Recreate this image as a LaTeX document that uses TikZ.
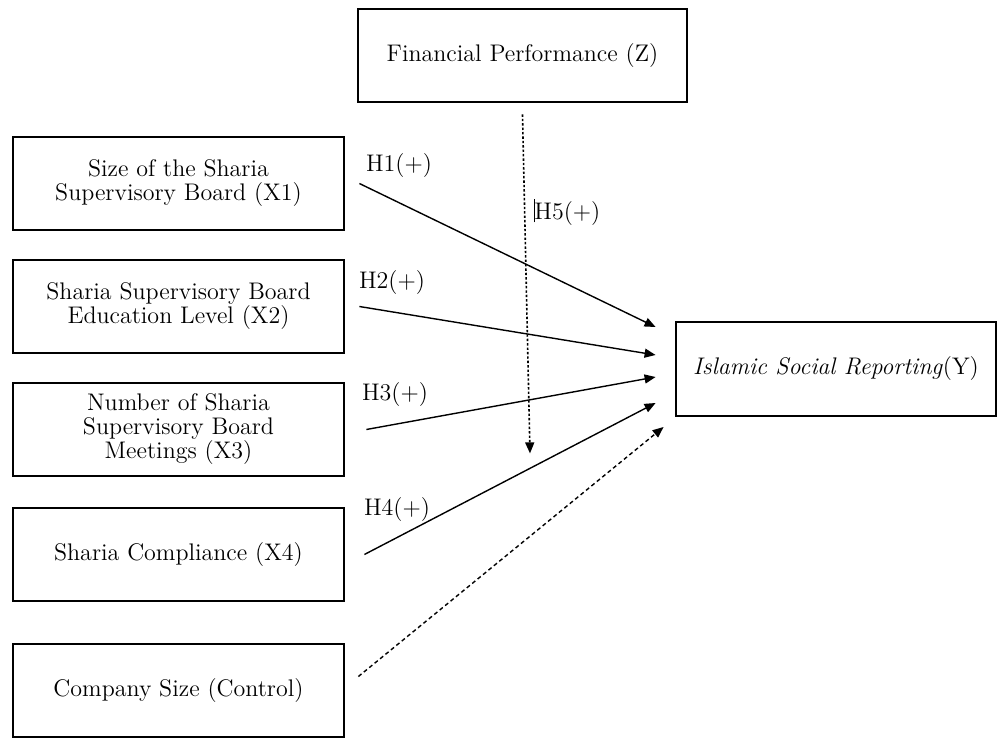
\documentclass[tikz,border=0pt]{standalone}
\usetikzlibrary{arrows.meta}
\begin{document}
\begin{tikzpicture}[x=0.5pt, y=-0.5pt,
    box/.style={draw, line width=1.4pt, minimum width=165.5pt, minimum height=46.5pt,
        inner sep=0pt, align=center, font=\fontsize{12}{12}\selectfont},
    hyp/.style={font=\fontsize{12}{13}\selectfont, inner sep=0pt},
    arr/.style={-{Triangle[length=5.5pt, width=4.5pt]}, line width=0.7pt}]
    \useasboundingbox (0,0) rectangle (998,738);

    % variables
    \node[box, minimum width=164.5pt] (fin) at (522.5, 55.5) {Financial Performance (Z)};
    \node[box] (sb) at (178.5, 183.5) {Size of the Sharia\\Supervisory Board (X1)};
    \node[box] (edu) at (178.5, 306.5) {Sharia Supervisory Board\\Education Level (X2)};
    \node[box] (meet) at (178.5, 429.5) {Number of Sharia\\Supervisory Board\\Meetings (X3)};
    \node[box] (comp) at (178.5, 554.5) {Sharia Compliance (X4)};
    \node[box] (size) at (178.5, 690.5) {Company Size (Control)};
    \node[box, minimum width=160pt, minimum height=47pt] (isr) at (836, 369) {\textit{Islamic Social Reporting}(Y)};

    % hypotheses
    \node[hyp] (h1) at (399, 166) {H1(+)};
    \node[hyp] (h2) at (392, 283) {H2(+)};
    \node[hyp] (h3) at (395, 395) {H3(+)};
    \node[hyp] (h4) at (397, 510) {H4(+)};
    \node[hyp] (h5) at (567, 212) {\rule[-0.3ex]{0.4pt}{2.3ex}H5(+)};

    % paths to Y
    \draw[arr] ([xshift=7pt]sb.east) -- ([xshift=-9.5pt, yshift=21pt]isr.west);
    \draw[arr] ([xshift=7pt]edu.east) -- ([xshift=-9.5pt, yshift=7pt]isr.west);
    \draw[arr] ([xshift=10.5pt]meet.east) -- ([xshift=-9.5pt, yshift=-4pt]isr.west);
    \draw[arr] ([xshift=9.5pt]comp.east) -- ([xshift=-9.5pt, yshift=-17pt]isr.west);
    \draw[arr, dash pattern=on 2pt off 1.5pt] ([xshift=6.5pt, yshift=7pt]size.east) -- ([xshift=-5.5pt, yshift=-29pt]isr.west);

    % moderation
    \draw[arr, line width=0.8pt, dash pattern=on 1.2pt off 1pt] ([yshift=-5.5pt]fin.south) -- ([xshift=3.75pt, yshift=-175pt]fin.south);
\end{tikzpicture}
\end{document}
